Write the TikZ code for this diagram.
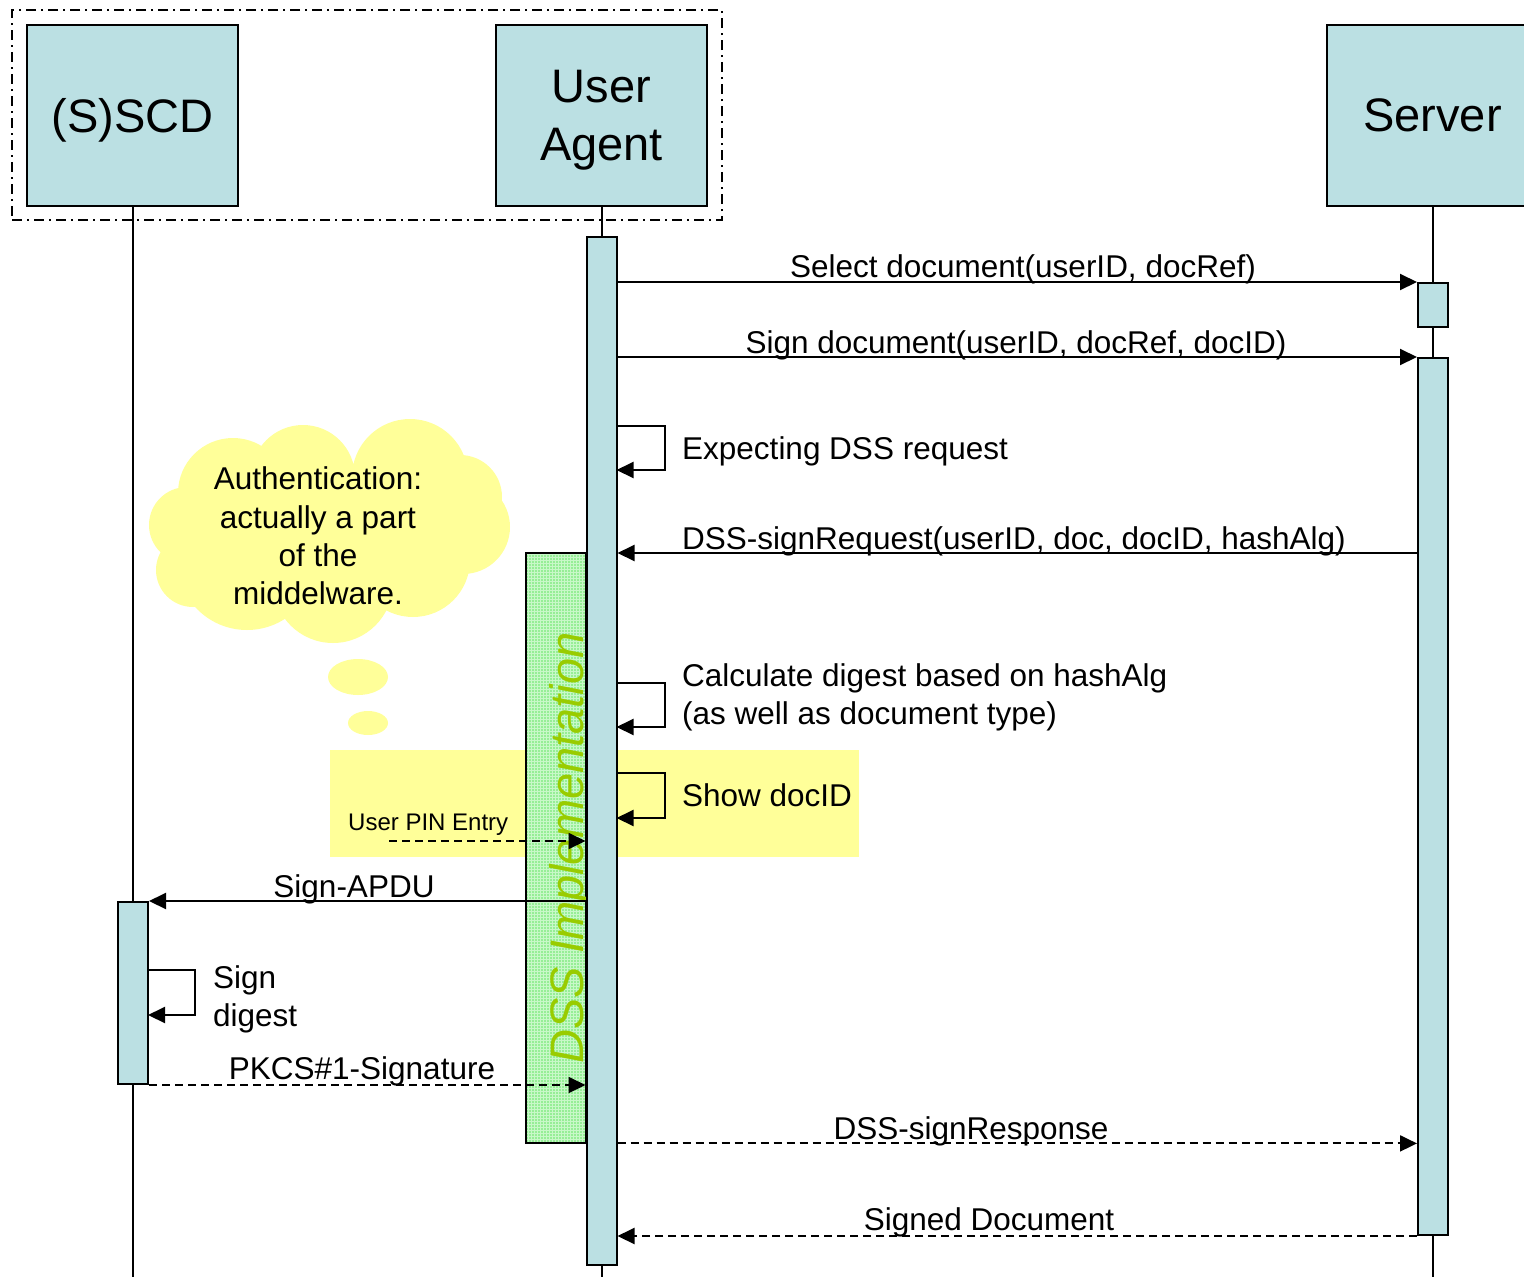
\documentclass[tikz,border=0pt]{standalone}
\usepackage{fontspec}
\setmainfont{Liberation Sans}
\usetikzlibrary{arrows.meta,patterns}
\definecolor{lblue}{HTML}{BBE0E3}
\definecolor{lyellow}{HTML}{FFFF99}
\definecolor{lgreen}{HTML}{96EE96}
\definecolor{gridgreen}{HTML}{C8F8C8}
\definecolor{ygreen}{HTML}{99CC00}
\begin{document}
\begin{tikzpicture}[x=1pt,y=-1pt,
  lifebox/.style={draw=black, line width=2pt, fill=lblue, minimum width=211pt, minimum height=181pt, inner sep=0pt, font=\fontsize{47pt}{58pt}\selectfont, align=center},
  actbar/.style={draw=black, line width=2pt, fill=lblue, minimum width=30pt, inner sep=0pt, anchor=north},
  life/.style={line width=2pt},
  msg/.style={line width=2pt, -{Triangle[length=17pt,width=16pt]}},
  rmsg/.style={msg, dash pattern=on 8pt off 5pt},
  lbl/.style={font=\fontsize{31.5pt}{38.3pt}\selectfont, inner sep=0pt},
  smalllbl/.style={font=\fontsize{24pt}{29pt}\selectfont, inner sep=0pt},
]
\useasboundingbox (0,0) rectangle (1524,1277);

% group frame
\node[draw=black, line width=2pt, dash pattern=on 10pt off 5pt on 2pt off 5pt, minimum width=710pt, minimum height=210pt, inner sep=0pt] (grp) at (367,115) {};

% participants
\node[lifebox, text depth=0pt] (sscd) at (132.5,115.5) {(S)SCD};
\node[lifebox, text depth=0pt] (ua) at (601.5,115.5) {User\\Agent};
\node[lifebox] (srv) at (1432.5,115.5) {Server};

% lifelines
\coordinate (sscdE) at (132.5,1277);
\coordinate (uaE) at (601.5,1277);
\coordinate (srvE) at (1432.5,1277);
\draw[life] (sscd.south) -- (sscdE);
\draw[life] (ua.south) -- (uaE);
\draw[life] (srv.south) -- (srvE);

% yellow highlight
\fill[lyellow] (330,750) rectangle (859,857);

% thought cloud
\fill[lyellow]
  (233,493) circle (55pt)
  (303,477) circle (52pt)
  (410,477) circle (58pt)
  (460,497) circle (42pt)
  (463,527) circle (47pt)
  (413,560) circle (57pt)
  (333,583) circle (60pt)
  (247,560) circle (70pt)
  (193,570) circle (37pt)
  (187,525) circle (38pt)
  (320,530) ellipse [x radius=120pt, y radius=60pt]
  (358,677) ellipse [x radius=30pt, y radius=18pt]
  (368,723) ellipse [x radius=20pt, y radius=12pt];
\node[lbl, align=center] (cloudtxt) at (318,536) {Authentication:\\actually a part\\of the\\middelware.};

% DSS implementation box
\node[fill=lgreen, postaction={pattern=grid, pattern color=gridgreen}, minimum width=60pt, minimum height=590pt, inner sep=0pt, anchor=north west] (dss) at (526,553) {};
\draw[line width=2pt] (dss.north west) rectangle (dss.south east);
\node[rotate=90, anchor=base, text=ygreen, font=\fontsize{47pt}{47pt}\selectfont\itshape, inner sep=0pt] (dsslbl) at (583,848) {DSS Implementation};

% activation bars
\node[actbar, minimum height=1028pt] (uabar) at (601.5,236) {};
\node[actbar, minimum height=44pt] (srvbar1) at (1433,282) {};
\node[actbar, minimum height=877pt] (srvbar2) at (1433,357) {};
\node[actbar, minimum height=182pt] (sscdbar) at (133,901) {};

% messages
\draw[msg] (uabar.east |- srvbar1.north) -- (srvbar1.north west);
\node[lbl, anchor=base] (l1) at (1023,277) {Select document(userID, docRef)};

\draw[msg] (uabar.east |- srvbar2.north) -- (srvbar2.north west);
\node[lbl, anchor=base] (l2) at (1016,353) {Sign document(userID, docRef, docID)};

\coordinate (s1a) at (616.5,426);
\coordinate (s1b) at (616.5,470);
\draw[msg] (s1a) -- ++(48,0) -- ++(0,44) -- (s1b);
\node[lbl, anchor=base west] (l3) at (682,459) {Expecting DSS request};

\draw[msg] (srvbar2.west |- dss.north) -- (uabar.east |- dss.north);
\node[lbl, anchor=base west] (l4) at (682,549) {DSS-signRequest(userID, doc, docID, hashAlg)};

\coordinate (s2a) at (616.5,683);
\coordinate (s2b) at (616.5,727);
\draw[msg] (s2a) -- ++(48,0) -- ++(0,44) -- (s2b);
\node[lbl, anchor=west, align=left] (l5) at (682,697) {Calculate digest based on hashAlg\\(as well as document type)};

\coordinate (s3a) at (616.5,773);
\coordinate (s3b) at (616.5,818);
\draw[msg] (s3a) -- ++(48,0) -- ++(0,45) -- (s3b);
\node[lbl, anchor=base west] (l6) at (682,806) {Show docID};

\coordinate (pin) at (389,841);
\draw[rmsg] (pin) -- (uabar.west |- pin);
\node[smalllbl, anchor=base west] (l7) at (348,830) {User PIN Entry};

\draw[msg] (uabar.west |- sscdbar.north) -- (sscdbar.north east);
\node[lbl, anchor=base] (l8) at (354,897) {Sign-APDU};

\coordinate (s4a) at (148,970);
\coordinate (s4b) at (148,1015);
\draw[msg] (s4a) -- ++(47,0) -- ++(0,45) -- (s4b);
\node[lbl, anchor=west, align=left] (l9) at (213,999) {Sign\\digest};

\draw[rmsg] (sscdbar.south east) -- (uabar.west |- sscdbar.south);
\node[lbl, anchor=base] (l10) at (362,1079) {PKCS\#1-Signature};

\draw[rmsg] (uabar.east |- dss.south) -- (srvbar2.west |- dss.south);
\node[lbl, anchor=base] (l11) at (971,1139) {DSS-signResponse};

\draw[rmsg] (srvbar2.south west) -- (uabar.east |- srvbar2.south);
\node[lbl, anchor=base] (l12) at (989,1230) {Signed Document};
\end{tikzpicture}
\end{document}
